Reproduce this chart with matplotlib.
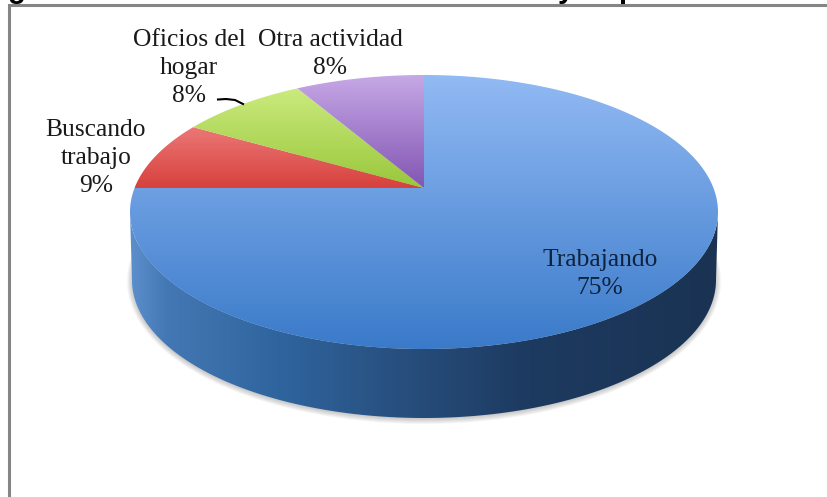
import numpy as np
import matplotlib
matplotlib.use("Agg")
import matplotlib.pyplot as plt
from matplotlib.colors import LinearSegmentedColormap
from matplotlib.patches import Polygon, Ellipse

categorias = ["Trabajando", "Buscando\ntrabajo", "Oficios del\nhogar", "Otra actividad"]
porcentajes = [75, 9, 8, 8]
# slice sizes as they look in the picture, before the rounding of the labels
valores = [75, 8.3, 8.3, 8.4]

# top and bottom colour of each slice gradient
colores_arriba = ["#92BAF4", "#F49090", "#CCEC80", "#C6A8E6"]
colores_abajo = ["#3A7AC9", "#D63F3B", "#98C63A", "#8154B2"]
rango_y = [(75, 350), (100, 190), (85, 190), (75, 190)]

etiqueta_pos = [(600, 274), (96, 158), (189, 68), (330, 54)]
titulo_trozos = [("g", 8), ("y", 558), ("p", 618)]

# geometry of the tilted pie, in pixels
cx, cy, rx, ry = 424, 212, 294, 137
apex_y = 188
cy2, rx2, ry2 = 280, 292, 138


def proyectar(grados):
    # perspective: the pie centre lands above the middle of the ellipse
    v0 = (cy - apex_y) / ry
    w = 1j * (1 - np.sqrt(1 - v0 ** 2)) / v0
    z = np.exp(1j * np.radians(grados))
    p = (z + w) / (1 + np.conj(w) * z)
    return cx + rx * p.real, cy - ry * p.imag


fig = plt.figure(figsize=(8.27, 4.97), dpi=100)
ax = fig.add_axes([0, 0, 1, 1])
ax.set_xlim(0, 827)
ax.set_ylim(497, 0)
ax.axis("off")

# frame
ax.plot([9, 9, 827], [497, 5, 5], color="#858585", lw=2.2, solid_joinstyle="miter")

for nombre, x in titulo_trozos:
    ax.text(x, -1.5, nombre, family="Liberation Sans", weight="bold", fontsize=21,
            color="black", va="baseline", ha="left")

# soft shadow under the pie
for i in range(6):
    ax.add_patch(Ellipse((cx, cy2 + 1), 2 * (rx2 + 5 - i), 2 * (ry2 + 5 - i), fc="#404040",
                         ec="none", alpha=0.05, zorder=1))

# side wall
t = np.radians(np.linspace(0, 180, 300))
borde_sup = np.c_[cx + rx * np.cos(t), cy + ry * np.sin(t)]
borde_inf = np.c_[cx + rx2 * np.cos(t[::-1]), cy2 + ry2 * np.sin(t[::-1])]
lado = Polygon(np.r_[borde_sup, borde_inf], closed=True, fc="none", ec="none")
ax.add_patch(lado)
cmap_lado = LinearSegmentedColormap.from_list("lado", [
    (0.0, "#5C8FCB"), (0.06, "#4478B4"), (0.25, "#2F659F"), (0.45, "#28507F"),
    (0.68, "#1D3A60"), (1.0, "#1A3353")])
img = ax.imshow(np.linspace(0, 1, 256)[None, :], cmap=cmap_lado, aspect="auto",
                extent=(cx - rx, cx + rx, 440, 190), zorder=2)
img.set_clip_path(lado)

# slices, clockwise from the top
inicio = 90
for i, val in enumerate(valores):
    fin = inicio - val * 3.6
    xs, ys = proyectar(np.linspace(inicio, fin, 300))
    verts = np.r_[[[cx, apex_y]], np.c_[xs, ys]]
    cuna = Polygon(verts, closed=True, fc="none", ec="none", zorder=3)
    ax.add_patch(cuna)
    cmap = LinearSegmentedColormap.from_list("c%d" % i, [colores_arriba[i], colores_abajo[i]])
    y0, y1 = rango_y[i]
    img = ax.imshow(np.linspace(0, 1, 256)[:, None], cmap=cmap, aspect="auto",
                    extent=(cx - rx - 2, cx + rx + 2, y1, y0), zorder=3)
    img.set_clip_path(cuna)
    inicio = fin

ax.set_xlim(0, 827)
ax.set_ylim(497, 0)

# leader line of Oficios del hogar
lx = np.array([218, 226, 235, 243])
ly = np.array([99.5, 99, 100, 104])
ax.plot(lx, ly, color="black", lw=1.5, zorder=4)

for i, (cat, pct) in enumerate(zip(categorias, porcentajes)):
    color = "#0E2340" if i == 0 else "#1A1A1A"
    ax.text(etiqueta_pos[i][0], etiqueta_pos[i][1], "%s\n%d%%" % (cat, pct), family="Liberation Serif",
            fontsize=18.4, color=color, ha="center", va="center", linespacing=1.34, zorder=5)

fig.savefig("out.png", dpi=100)
